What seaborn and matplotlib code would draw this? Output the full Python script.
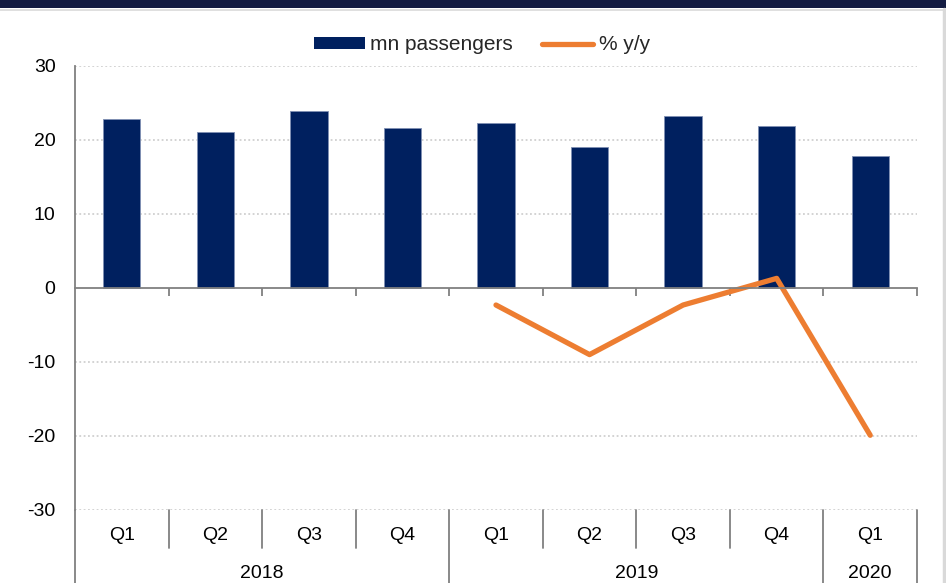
import matplotlib
matplotlib.use("Agg")
import matplotlib.pyplot as plt
import matplotlib.transforms as mtransforms
from matplotlib.patches import Patch, Rectangle
from matplotlib.lines import Line2D
import seaborn as sns
import pandas as pd
import numpy as np

# ---- data ----
quarters = ["Q1", "Q2", "Q3", "Q4", "Q1", "Q2", "Q3", "Q4", "Q1"]
years = ["2018", "2019", "2020"]
year_spans = [(0, 4), (4, 8), (8, 9)]
passengers = [22.8, 21.1, 23.9, 21.6, 22.3, 19.1, 23.2, 21.9, 17.8]
yoy_pos = [4, 5, 6, 7, 8]
yoy = [-2.3, -9.0, -2.3, 1.3, -19.9]
yticks = [-30, -20, -10, 0, 10, 20, 30]

NAVY = "#00205f"
ORANGE = "#ed7d31"
GRAY = "#808080"

sns.set_theme(style="white")
plt.rcParams["font.family"] = ["Liberation Sans", "DejaVu Sans"]
FS = 14
LFS = 15

W, H = 946, 583
fig = plt.figure(figsize=(W / 100, H / 100), dpi=100)
fig.patch.set_facecolor("white")

# top band and panel border
fig.add_artist(Rectangle((0, 1 - 8 / H), 1, 8 / H, transform=fig.transFigure,
                         facecolor="#131b42", edgecolor="none"))
fig.add_artist(Line2D([0, 1], [1 - 9.5 / H] * 2, transform=fig.transFigure,
                      color="#d9d9d9", lw=1.2))
fig.add_artist(Line2D([943.5 / W] * 2, [0, 1 - 9 / H], transform=fig.transFigure,
                      color="#d9d9d9", lw=2.5))

ax_l, ax_r, ax_t, ax_b = 75, 917, 66, 510
ax = fig.add_axes([ax_l / W, 1 - ax_b / H, (ax_r - ax_l) / W, (ax_b - ax_t) / H])
ax.set_facecolor("white")

df = pd.DataFrame({"pos": list(range(len(passengers))), "val": passengers})
sns.barplot(data=df, x="pos", y="val", color=NAVY, width=0.4, ax=ax,
            edgecolor="#7f8fb3", linewidth=0.6, saturation=1)
dl = pd.DataFrame({"pos": yoy_pos, "val": yoy})
sns.lineplot(data=dl, x="pos", y="val", color=ORANGE, lw=3.8, ax=ax,
             solid_capstyle="round", solid_joinstyle="round")

ax.set_xlim(-0.5, len(passengers) - 0.5)
ax.set_ylim(-30, 30)
ax.set_xlabel("")
ax.set_ylabel("")

# gridlines
for y in yticks:
    if y != 0:
        ax.axhline(y, color="#d0d0d0", lw=1.3, ls=(0, (1, 1.4)), zorder=0)

ax.set_yticks(yticks)
ax.set_yticklabels([str(t) for t in yticks], fontsize=FS, color="black")
ax.tick_params(axis="y", length=0, pad=14)

for s in ["top", "right"]:
    ax.spines[s].set_visible(False)
ax.spines["left"].set_color(GRAY)
ax.spines["left"].set_linewidth(1.3)
ax.spines["bottom"].set_position(("data", 0))
ax.spines["bottom"].set_color(GRAY)
ax.spines["bottom"].set_linewidth(1.3)
ax.set_xticks([k - 0.5 for k in range(1, len(passengers) + 1)])
ax.set_xticklabels([])
ax.tick_params(axis="x", direction="out", length=6, width=1.3, color=GRAY, bottom=True)

# extended left spine
axh = ax_b - ax_t
ax.plot([-0.5, -0.5], [0, -(H - ax_b) / axh], color=GRAY, lw=1.3,
        transform=mtransforms.blended_transform_factory(ax.transData, ax.transAxes),
        clip_on=False)

trans = mtransforms.blended_transform_factory(ax.transData, ax.transAxes)
q_sep_bottom = -(548 - ax_b) / axh
y_sep_bottom = -(H - ax_b) / axh
year_bounds = {a for a, b in year_spans} | {b for a, b in year_spans}
for k in range(1, len(passengers) + 1):
    x = k - 0.5
    if k in year_bounds:
        ax.plot([x, x], [0, y_sep_bottom], color=GRAY, lw=1.3, transform=trans, clip_on=False)
    else:
        ax.plot([x, x], [0, q_sep_bottom], color=GRAY, lw=1.3, transform=trans, clip_on=False)

for i, q in enumerate(quarters):
    ax.text(i, -(535 - ax_b) / axh, q, transform=trans, ha="center", va="center",
            fontsize=FS, color="black")
for yr, (a, b) in zip(years, year_spans):
    ax.text((a + b - 1) / 2, -(573 - ax_b) / axh, yr, transform=trans, ha="center",
            va="center", fontsize=FS, color="black")

handles = [Patch(facecolor=NAVY, edgecolor="none"),
           Line2D([0], [0], color=ORANGE, lw=3.8, solid_capstyle="round")]
fig.legend(handles, ["mn passengers", "% y/y"], loc="center",
           bbox_to_anchor=(482 / W, 1 - 45 / H), ncol=2, frameon=False,
           fontsize=LFS, handlelength=2.45, handleheight=0.55, handletextpad=0.28,
           columnspacing=1.4, borderpad=0)

fig.savefig("out.png", dpi=100, facecolor="white")
